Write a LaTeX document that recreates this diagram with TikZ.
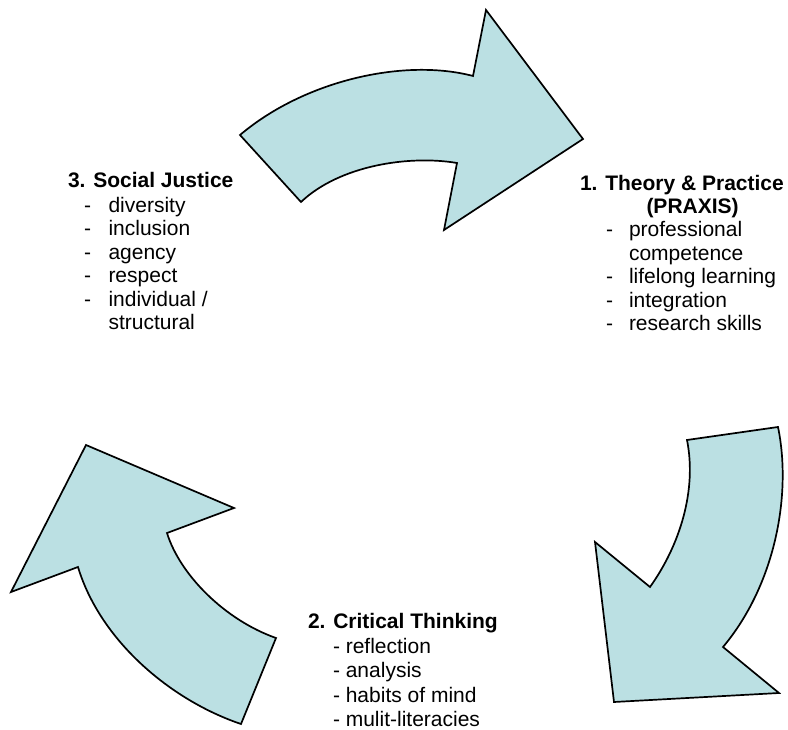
\documentclass[tikz,border=0pt]{standalone}
\usepackage{fontspec}
\setmainfont{Liberation Sans}
\begin{document}
\begin{tikzpicture}[x=1pt,y=-1pt,
  cyclearrow/.style={fill=arrowfill,draw=black,line width=1.7pt,line join=miter},
  txt/.style={anchor=base west,inner sep=0pt,outer sep=0pt,font=\fontsize{21}{23.5}\selectfont},
  head/.style={txt,font=\fontsize{21}{23.5}\selectfont\bfseries},
  dashmark/.style={txt}]
\definecolor{arrowfill}{RGB}{187,224,227}
\useasboundingbox (0,0) rectangle (788,730);

% upper arrow: Social Justice -> Theory & Practice
\draw[cyclearrow] (240,135) .. controls (305,80) and (405,58) .. (473,76)
  -- (486,10) -- (583,139) -- (444,230) -- (457,163)
  .. controls (410,155) and (340,165) .. (301,202) -- cycle;

% right arrow: Theory & Practice -> Critical Thinking
\draw[cyclearrow] (687,440) -- (778,427)
  .. controls (792,495) and (775,585) .. (723,647)
  -- (779,693) -- (614,702) -- (595,542) -- (650,587)
  .. controls (680,545) and (697,490) .. (687,440) -- cycle;

% left arrow: Critical Thinking -> Social Justice
\draw[cyclearrow] (276,638) -- (241,724)
  .. controls (170,700) and (100,640) .. (78,567)
  -- (11,592) -- (86,445) -- (234,508) -- (167,533)
  .. controls (180,575) and (225,620) .. (276,638) -- cycle;

% 1. Theory & Practice
\node[head] (t1) at (580,190.5) {1. Theory \& Practice};
\node[head] (t1b) at (646.5,213.5) {(PRAXIS)};
\node[dashmark] (d11) at (606,237) {-};
\node[txt] (i11) at (629,237) {professional};
\node[txt] (i11b) at (629,260.5) {competence};
\node[dashmark] (d12) at (606,284) {-};
\node[txt] (i12) at (629,284) {lifelong learning};
\node[dashmark] (d13) at (606,307.5) {-};
\node[txt] (i13) at (629,307.5) {integration};
\node[dashmark] (d14) at (606,331) {-};
\node[txt] (i14) at (629,331) {research skills};

% 2. Critical Thinking
\node[head] (t2) at (308,628) {2. Critical Thinking};
\node[txt] (i21) at (333,653) {- reflection};
\node[txt] (i22) at (333,677.5) {- analysis};
\node[txt] (i23) at (333,702) {- habits of mind};
\node[txt] (i24) at (333,726.5) {- mulit-literacies};

% 3. Social Justice
\node[head] (t3) at (68,188) {3. Social Justice};
\node[dashmark] (d31) at (84,212.5) {-};
\node[txt] (i31) at (108.5,212.5) {diversity};
\node[dashmark] (d32) at (84,236) {-};
\node[txt] (i32) at (108.5,236) {inclusion};
\node[dashmark] (d33) at (84,259.5) {-};
\node[txt] (i33) at (108.5,259.5) {agency};
\node[dashmark] (d34) at (84,283) {-};
\node[txt] (i34) at (108.5,283) {respect};
\node[dashmark] (d35) at (84,306.5) {-};
\node[txt] (i35) at (108.5,306.5) {individual /};
\node[txt] (i35b) at (108.5,330) {structural};
\end{tikzpicture}
\end{document}
